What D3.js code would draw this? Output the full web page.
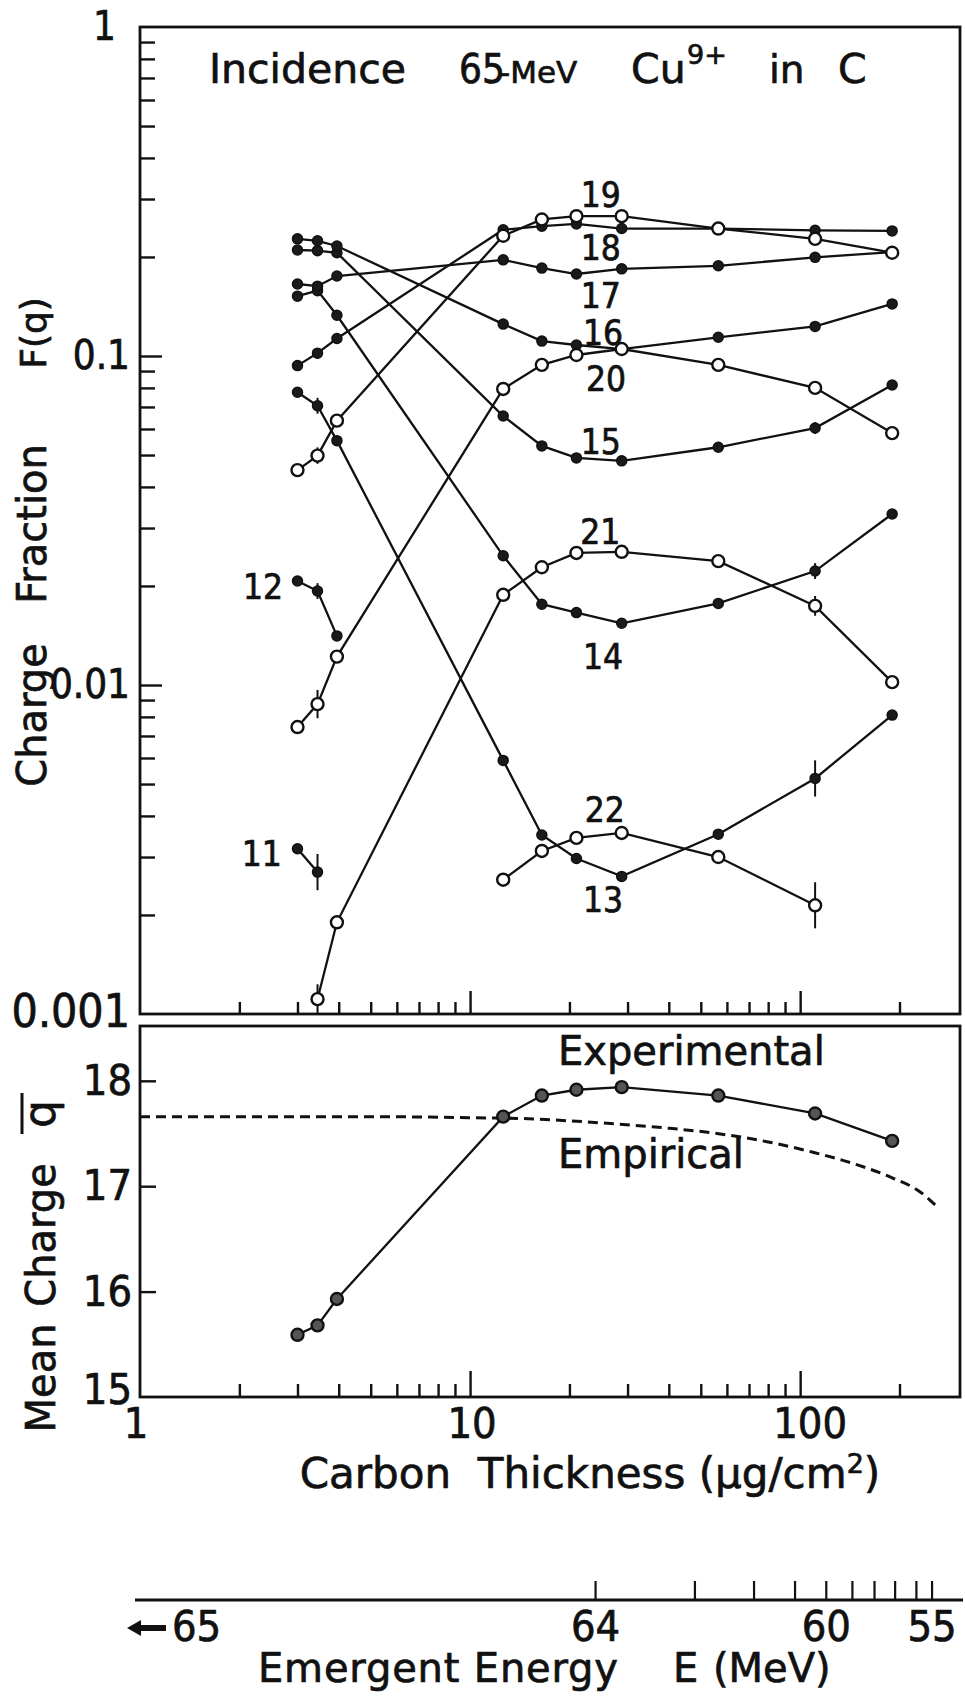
<!DOCTYPE html>
<html>
<head>
<meta charset="utf-8">
<script src="https://cdn.jsdelivr.net/npm/d3@7"></script>
<style>
  body { margin: 0; background: #fff; }
  text { fill: #111; stroke: #111; stroke-width: 0.7px; }
  .word { font-family: "DejaVu Sans", sans-serif; }
  .num { font-family: "Liberation Sans Narrow", "DejaVu Sans Condensed", "Arial Narrow", sans-serif; font-stretch: condensed; }
</style>
</head>
<body>
<div id="chart"></div>
<script>
// carbon foil thickness (ug/cm2) of each measurement
const thickness = [3.0, 3.45, 3.95, 12.6, 16.5, 21.0, 28.8, 56.5, 111, 190];

// charge fractions F(q), null where not measured
const charges = [11, 12, 13, 14, 15, 16, 17, 18, 19, 20, 21, 22];
const f11 = [0.00318, 0.0027, null, null, null, null, null, null, null, null];
const f12 = [0.0207, 0.0193, 0.0141, null, null, null, null, null, null, null];
const f13 = [0.0776, 0.0706, 0.0553, 0.0059, 0.0035, 0.00297, 0.00262, 0.00352, 0.0052, 0.0081];
const f14 = [0.152, 0.158, 0.133, 0.0247, 0.0176, 0.0166, 0.0154, 0.0177, 0.0222, 0.0331];
const f15 = [0.21, 0.209, 0.206, 0.0657, 0.0533, 0.049, 0.048, 0.0528, 0.0604, 0.0816];
const f16 = [0.227, 0.224, 0.216, 0.125, 0.111, 0.108, 0.105, 0.114, 0.123, 0.144];
const f17 = [0.1655, 0.163, 0.175, 0.196, 0.185, 0.1775, 0.184, 0.188, 0.1995, 0.207];
const f18 = [0.0935, 0.102, 0.113, 0.242, 0.248, 0.252, 0.244, 0.244, 0.241, 0.24];
const f19 = [0.045, 0.0498, 0.0636, 0.232, 0.26, 0.266, 0.266, 0.244, 0.227, 0.206];
const f20 = [0.00745, 0.00875, 0.0122, 0.0794, 0.094, 0.1007, 0.105, 0.094, 0.08, 0.0583];
const f21 = [null, 0.00111, 0.0019, 0.0188, 0.0228, 0.0252, 0.0254, 0.0238, 0.0174, 0.0102];
const f22 = [null, null, null, 0.00256, 0.00313, 0.00343, 0.00355, 0.003, 0.00214, null];
const fractions = [f11, f12, f13, f14, f15, f16, f17, f18, f19, f20, f21, f22];

// error bars: charge, point index, half length in decades
const errorBars = [[11, 1, 0.055], [12, 1, 0.024], [13, 1, 0.024], [19, 1, 0.025], [20, 1, 0.043],
  [21, 1, 0.045], [13, 8, 0.055], [14, 8, 0.024], [15, 8, 0.018], [21, 8, 0.03], [22, 8, 0.07]];

// where the charge numbers are written (thickness, fraction)
const chargeLabels = [[19, 24.9, 0.308], [18, 24.9, 0.2135], [17, 24.9, 0.152], [16, 25.3, 0.1175],
  [20, 25.8, 0.0852], [15, 24.9, 0.0548], [21, 24.8, 0.0292], [14, 25.3, 0.0122], [12, 2.36, 0.0198],
  [22, 25.6, 0.00416], [11, 2.34, 0.00306], [13, 25.3, 0.00222]];

// mean charge
const meanCharge = [15.59, 15.68, 15.93, 17.66, 17.86, 17.915, 17.94, 17.86, 17.69, 17.43];
const empiricalT = [1, 5, 10, 15, 20, 28, 40, 56, 80, 110, 150, 190, 230, 257];
const empiricalQ = [17.66, 17.66, 17.65, 17.64, 17.62, 17.59, 17.55, 17.5, 17.42, 17.32, 17.2, 17.08, 16.95, 16.82];

// axis ticks
const fracTickLabels = ["0.001", "0.01", "0.1", "1"];
const fracTickValues = [0.001, 0.01, 0.1, 1];
const fracMinor = [0.002, 0.003, 0.004, 0.005, 0.006, 0.007, 0.008, 0.009,
  0.02, 0.03, 0.04, 0.05, 0.06, 0.07, 0.08, 0.09, 0.2, 0.3, 0.4, 0.5, 0.6, 0.7, 0.8, 0.9];
const meanTicks = [15, 16, 17, 18];
const thickLabels = ["1", "10", "100"];
const thickValues = [1, 10, 100];
const thickMinor = [2, 3, 4, 5, 6, 7, 8, 9, 20, 30, 40, 50, 60, 70, 80, 90, 200];
// emergent energy scale: thickness at which E = 64, 63, ... 55 MeV
const energyTickT = [24, 48, 72.5, 96.5, 120, 144, 168, 194, 225, 251];
const energyLabels = ["64", "60", "55"];
const energyLabelT = [24, 120, 251];

const svg = d3.select("#chart").append("svg")
  .attr("width", 965).attr("height", 1708)
  .style("background", "#fff");

const left = 140, right = 960;
const topY0 = 27, topY1 = 1014, botY0 = 1026, botY1 = 1397;

const x = d3.scaleLog().domain([1, 305]).range([left, right]);
const yF = d3.scaleLog().domain([0.001, 1]).range([topY1, topY0]);
const yQ = d3.scaleLinear().domain([15, 18.52]).range([botY1, botY0]);

// frames
[[topY0, topY1], [botY0, botY1]].forEach(([a, b]) => {
  svg.append("rect").attr("x", left).attr("y", a)
    .attr("width", right - left).attr("height", b - a)
    .attr("fill", "none").attr("stroke", "#111").attr("stroke-width", 2.8);
});

function ticks(axis, tx, ty, size) {
  const g = svg.append("g").attr("transform", `translate(${tx},${ty})`)
    .call(axis.tickSize(size).tickFormat(""));
  g.select(".domain").remove();
  g.selectAll("line").attr("stroke", "#111").attr("stroke-width", 2.4);
}

// inward ticks
ticks(d3.axisTop(x).tickValues(thickMinor), 0, topY1, 12);
ticks(d3.axisTop(x).tickValues([10, 100]), 0, topY1, 23);
ticks(d3.axisTop(x).tickValues(thickMinor), 0, botY1, 13);
ticks(d3.axisTop(x).tickValues([10, 100]), 0, botY1, 26);
ticks(d3.axisRight(yF).tickValues(fracMinor), left, 0, 15);
ticks(d3.axisRight(yF).tickValues([0.01, 0.1]), left, 0, 22);
ticks(d3.axisRight(yQ).tickValues([16, 17, 18]), left, 0, 16);

// tick labels
fracTickValues.forEach((v, i) => {
  svg.append("text").attr("class", "num").attr("font-size", v === 0.001 ? 46 : 40)
    .attr("text-anchor", "end").attr("x", v === 1 ? 116 : 130).attr("y", yF(v) + 13)
    .text(fracTickLabels[i]);
});
meanTicks.forEach(v => {
  svg.append("text").attr("class", "num").attr("font-size", 43)
    .attr("text-anchor", "end").attr("x", 132).attr("y", yQ(v) + (v === 15 ? 7 : 14))
    .text(v);
});
thickValues.forEach((v, i) => {
  svg.append("text").attr("class", "num").attr("font-size", 43)
    .attr("text-anchor", "middle").attr("x", x(v) + (v === 1 ? -4 : v === 100 ? 10 : 2)).attr("y", 1438)
    .text(thickLabels[i]);
});

// axis titles
svg.append("text").attr("class", "word").attr("font-size", 42)
  .attr("text-anchor", "middle").attr("x", 590).attr("y", 1488)
  .html("Carbon&#160; Thickness (µg/cm<tspan font-size='27' dy='-15'>2</tspan><tspan dy='15'>)</tspan>");

function vlabel(text, bx, cy, size, cls) {
  return svg.append("text").attr("class", cls).attr("font-size", size)
    .attr("text-anchor", "middle")
    .attr("transform", `translate(${bx},${cy}) rotate(-90)`).text(text);
}
vlabel("Charge", 46, 715, 40, "word");
vlabel("Fraction", 46, 524, 40, "word");
vlabel("F(q)", 46, 333, 36, "word");
vlabel("Mean", 55, 1378, 40, "word");
vlabel("Charge", 55, 1235, 40, "word");
vlabel("q", 55, 1114, 44, "word");
svg.append("line").attr("x1", 22).attr("x2", 22).attr("y1", 1093).attr("y2", 1134)
  .attr("stroke", "#111").attr("stroke-width", 3);

// title
const title = [["Incidence", 209, 41, "word", 83], ["65", 459, 40, "num", 83], ["-MeV", 499, 31, "word", 83],
  ["Cu", 631, 41, "word", 83], ["9+", 687, 27, "word", 64], ["in", 769, 39, "word", 83], ["C", 838, 41, "word", 83]];
title.forEach(([t, tx, s, c, by]) => {
  svg.append("text").attr("class", c).attr("font-size", s).attr("x", tx).attr("y", by).text(t);
});

// charge fraction curves
const lineF = d3.line().defined(d => d[1] != null).x(d => x(d[0])).y(d => yF(d[1]));
charges.forEach((q, k) => {
  const pts = thickness.map((t, i) => [t, fractions[k][i]]);
  svg.append("path").datum(pts).attr("d", lineF)
    .attr("fill", "none").attr("stroke", "#111").attr("stroke-width", 2.3);
});

// error bars
errorBars.forEach(([q, i, d]) => {
  const v = fractions[charges.indexOf(q)][i];
  svg.append("line").attr("x1", x(thickness[i])).attr("x2", x(thickness[i]))
    .attr("y1", yF(v * Math.pow(10, d))).attr("y2", yF(v / Math.pow(10, d)))
    .attr("stroke", "#111").attr("stroke-width", 2);
});

// markers: filled up to 18+, open from 19+
charges.forEach((q, k) => {
  const pts = thickness.map((t, i) => [t, fractions[k][i]]).filter(d => d[1] != null);
  const open = q >= 19;
  svg.selectAll(null).data(pts).enter().append("circle")
    .attr("cx", d => x(d[0])).attr("cy", d => yF(d[1]))
    .attr("r", open ? 6 : 5)
    .attr("fill", open ? "#fff" : "#1a1a1a")
    .attr("stroke", "#111").attr("stroke-width", open ? 2.4 : 1.5);
});

chargeLabels.forEach(([q, t, f]) => {
  svg.append("text").attr("class", "num").attr("font-size", 35)
    .attr("text-anchor", "middle").attr("x", x(t)).attr("y", yF(f) + 12).text(q);
});

// mean charge panel
svg.append("path").datum(empiricalT.map((t, i) => [t, empiricalQ[i]]))
  .attr("d", d3.line().curve(d3.curveMonotoneX).x(d => x(d[0])).y(d => yQ(d[1])))
  .attr("fill", "none").attr("stroke", "#111").attr("stroke-width", 3)
  .attr("stroke-dasharray", "10,6");
const meanPts = thickness.map((t, i) => [t, meanCharge[i]]);
svg.append("path").datum(meanPts)
  .attr("d", d3.line().x(d => x(d[0])).y(d => yQ(d[1])))
  .attr("fill", "none").attr("stroke", "#111").attr("stroke-width", 2.3);
svg.selectAll(null).data(meanPts).enter().append("circle")
  .attr("cx", d => x(d[0])).attr("cy", d => yQ(d[1])).attr("r", 6)
  .attr("fill", "#555").attr("stroke", "#111").attr("stroke-width", 2.4);

svg.append("text").attr("class", "word").attr("font-size", 40)
  .attr("x", 558).attr("y", 1065).text("Experimental");
svg.append("text").attr("class", "word").attr("font-size", 40)
  .attr("x", 558).attr("y", 1168).text("Empirical");

// emergent energy axis
svg.append("line").attr("x1", 135).attr("x2", 963).attr("y1", 1600).attr("y2", 1600)
  .attr("stroke", "#111").attr("stroke-width", 2.8);
svg.selectAll(null).data(energyTickT).enter().append("line")
  .attr("x1", d => x(d)).attr("x2", d => x(d)).attr("y1", 1600).attr("y2", 1581)
  .attr("stroke", "#111").attr("stroke-width", 2.2);
energyLabelT.forEach((t, i) => {
  svg.append("text").attr("class", "num").attr("font-size", 43)
    .attr("text-anchor", "middle").attr("x", x(t)).attr("y", 1641).text(energyLabels[i]);
});
svg.append("text").attr("class", "num").attr("font-size", 43)
  .attr("x", 172).attr("y", 1641).text("65");
svg.append("path").attr("d", "M127,1628 L141,1620 L141,1625 L166,1625 L166,1631 L141,1631 L141,1636 Z")
  .attr("fill", "#111");

svg.append("text").attr("class", "word").attr("font-size", 40)
  .attr("x", 258).attr("y", 1682)
  .attr("textLength", 360).attr("lengthAdjust", "spacing").text("Emergent Energy");
svg.append("text").attr("class", "word").attr("font-size", 40)
  .attr("x", 673).attr("y", 1682).text("E");
svg.append("text").attr("class", "word").attr("font-size", 40)
  .attr("x", 713).attr("y", 1682).text("(MeV)");
</script>
</body>
</html>
